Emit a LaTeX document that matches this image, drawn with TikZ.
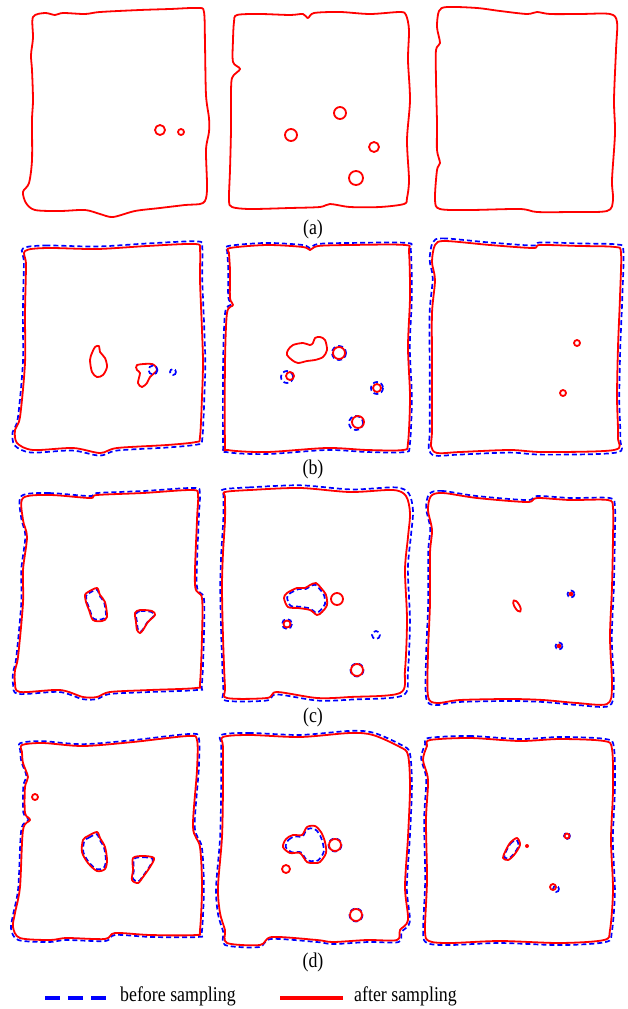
\documentclass[tikz,border=0pt]{standalone}
\usepackage{fontspec}
\setmainfont{Liberation Serif}
\tikzset{
  afterline/.style={draw=red, line width=1.8pt, line join=round},
  beforeline/.style={draw=blue, line width=1.7pt, dash pattern=on 5pt off 3pt},
  dotfill/.style={fill=red, draw=none},
  caption/.style={font=\fontsize{21}{24}\selectfont, inner sep=0pt},
}
% outline: blue one scaled about (#1,#2) by #3, red one on top
\newcommand\slab[4]{%
  \draw[beforeline, shift={(#1,#2)}, scale=#3, shift={(-#1,-#2)}] plot[smooth cycle] coordinates {#4};
  \draw[afterline] plot[smooth cycle] coordinates {#4};
}
\newcommand\narrow[1]{\scalebox{0.85}[1]{#1}}

\begin{document}
\begin{tikzpicture}[x=1pt, y=-1pt]
\useasboundingbox (0,0) rectangle (627,1009);

% Row (a)
\draw[afterline] plot[smooth cycle] coordinates {(33,17) (45,13) (55,15) (63,13) (85,14) (100,12) (140,10) (170,9) (198,8) (204,12) (205,45) (206,95) (209,118) (209,132) (206,150) (207,190) (203,203) (185,205) (160,208) (135,211) (113,217) (100,214) (85,210) (60,211) (35,210) (26,203) (23,192) (29,183) (32,160) (32,120) (33,100) (32,70) (31,55) (33,38)};
\draw[afterline] (160,130) circle (5) (181,132) circle (3);

\draw[afterline] plot[smooth cycle] coordinates {(237,15) (260,14) (290,15) (303,14) (308,18) (314,13) (340,12) (370,14) (400,12) (406,15) (409,30) (408,60) (410,100) (407,140) (409,180) (407,198) (404,204) (380,207) (350,207) (330,204) (320,207) (290,208) (250,209) (232,207) (229,200) (230,170) (231,130) (231,100) (232,78) (240,69) (233,62) (233,40) (234,22)};
\draw[afterline] (340,113) circle (6) (291,135) circle (6) (374,147) circle (5) (356,178) circle (7);

\draw[afterline] plot[smooth cycle] coordinates {(439,11) (447,7) (477,8) (500,11) (527,14) (537,12) (550,14) (580,14) (610,14) (617,22) (616,50) (614,100) (615,133) (612,180) (613,200) (607,211) (570,212) (537,212) (520,209) (470,210) (440,209) (435,200) (437,170) (440,163) (437,150) (437,123) (436,80) (436,50) (440,43) (437,27)};

\node[caption] (la) at (313,229) {\narrow{(a)}};

% Row (b)
\slab{110}{348}{1.025}{(25,251) (47,248) (97,249) (147,246) (195,244) (200,250) (200,280) (202,330) (203,363) (202,397) (200,437) (196,442) (167,445) (117,448) (100,453) (73,448) (33,450) (17,443) (15,430) (20,417) (25,363) (25,313) (26,265)}
\draw[afterline] plot[smooth cycle] coordinates {(95,347) (99,346) (100,352) (105,358) (107,367) (103,375) (97,377) (92,372) (90,360) (92,353)};
\draw[afterline] plot[smooth cycle] coordinates {(137,365) (152,364) (157,370) (150,377) (147,383) (142,387) (138,383) (140,373) (137,370)};
\draw[beforeline] (153,370) circle (4.5) (173,372) circle (3);

\slab{318}{348}{1.02}{(230,248) (267,245) (303,247) (310,250) (318,246) (350,245) (405,245) (409,252) (410,297) (408,347) (410,397) (408,443) (403,450) (367,450) (327,448) (267,452) (228,450) (225,443) (225,363) (227,313) (233,305) (230,298) (230,270) (229,253)}
\draw[afterline] plot[smooth cycle] coordinates {(288,350) (293,345) (303,343) (310,345) (313,343) (315,338) (320,337) (325,340) (327,350) (323,357) (315,360) (307,361) (298,363) (292,360) (287,355)};
\draw[beforeline] (339,353) circle (7) (287,377) circle (6) (377,388) circle (6) (356,423) circle (7);
\draw[afterline] (339,353) circle (6) (290,376) circle (4) (377,388) circle (4) (358,422) circle (6);

\slab{526}{347}{1.025}{(435,245) (445,241) (490,245) (533,248) (540,245) (580,246) (615,247) (621,253) (620,297) (618,347) (617,397) (618,437) (614,450) (543,452) (510,450) (460,452) (437,453) (431,446) (432,430) (432,363) (432,313) (435,280) (432,262)}
\draw[afterline] (577,343) circle (3) (563,393) circle (3);

\node[caption] (lb) at (313,469) {\narrow{(b)}};

% Row (c)
\slab{108}{593}{1.02}{(23,498) (50,495) (90,498) (97,495) (143,493) (192,490) (198,495) (197,520) (195,585) (202,598) (202,637) (200,683) (196,688) (150,690) (110,692) (97,697) (83,697) (60,690) (20,692) (15,683) (15,670) (18,657) (23,603) (23,570) (27,537) (23,520)}
\slab{96}{605}{0.9}{(85,595) (88,592) (97,588) (100,595) (105,602) (107,617) (102,621) (93,620) (89,610) (86,602)}
\slab{145}{620}{0.9}{(135,613) (140,610) (152,611) (155,615) (148,622) (143,630) (140,633) (137,630) (136,622)}

\slab{290}{595}{1.025}{(225,492) (250,490) (300,488) (350,492) (393,490) (406,496) (410,513) (408,537) (405,570) (407,620) (405,670) (400,693) (350,697) (317,698) (277,692) (267,698) (227,698) (225,687) (223,637) (222,587) (223,553) (225,520) (225,497)}
\slab{310}{597}{0.88}{(284,598) (287,593) (297,588) (305,588) (310,585) (316,583) (321,588) (326,595) (327,605) (322,612) (317,615) (310,610) (298,608) (288,607)}
\draw[beforeline] (287,624) circle (5) (376,635) circle (4) (357,670) circle (6.5);
\draw[afterline] (337,599) circle (6) (287,624) circle (3.5) (357,670) circle (6);

\slab{520}{600}{1.02}{(431,496) (443,493) (477,498) (527,502) (537,498) (570,500) (608,500) (613,508) (613,537) (612,587) (610,637) (612,687) (607,704) (577,703) (543,700) (510,699) (460,700) (437,703) (428,696) (428,653) (430,603) (430,553) (432,530) (428,510)}
\draw[afterline, rotate around={-60:(517,606)}] (517,606) ellipse (6.5 and 2.5);
\draw[beforeline] (571,594) circle (3.5) (559,646) circle (3.5);
\fill[dotfill] (571,594) circle (2.3) (559,646) circle (2.3);

\node[caption] (lc) at (313,717) {\narrow{(c)}};

% Row (d)
\slab{108}{838}{1.02}{(22,745) (43,743) (83,746) (133,742) (188,736) (197,740) (197,770) (193,827) (200,847) (202,887) (200,930) (196,935) (150,935) (115,933) (105,939) (67,938) (50,940) (20,938) (13,927) (15,913) (20,887) (23,830) (30,820) (25,813) (25,787) (28,777) (23,763) (22,752)}
\draw[afterline] (35,797) circle (3);
\slab{95}{853}{0.9}{(83,840) (88,836) (97,832) (100,838) (105,847) (107,860) (105,869) (97,871) (88,863) (82,852)}
\slab{142}{868}{0.9}{(133,858) (143,856) (154,858) (150,867) (143,877) (138,883) (132,880) (133,870)}

\slab{315}{840}{1.02}{(223,737) (250,735) (300,737) (350,733) (373,735) (400,747) (408,755) (410,787) (408,837) (405,887) (408,920) (400,930) (397,940) (367,940) (333,942) (317,940) (272,937) (260,945) (227,943) (225,930) (220,913) (218,887) (222,837) (223,787) (223,747)}
\slab{306}{847}{0.88}{(283,847) (286,839) (293,835) (302,835) (307,827) (315,826) (321,832) (325,842) (326,853) (320,862) (315,863) (307,862) (300,853) (290,853)}
\draw[beforeline] (335,845) circle (6.5) (356,915) circle (6.5);
\draw[afterline] (335,845) circle (6) (286,869) circle (4) (356,915) circle (6);

\slab{518}{840}{1.02}{(430,740) (470,738) (520,741) (560,739) (604,741) (612,749) (613,790) (611,840) (613,890) (610,930) (604,940) (560,943) (500,941) (450,943) (429,941) (425,930) (427,880) (426,820) (428,780) (423,760) (427,746)}
\slab{511}{850}{0.85}{(505,852) (510,843) (517,838) (520,845) (514,855) (508,860) (503,858)}
\draw[beforeline] (567,836) circle (3) (556,889) circle (3);
\draw[afterline] (567,836) circle (2.5) (553,887) circle (3);
\fill[dotfill] (527,846) circle (2);

\node[caption] (ld) at (313,962) {\narrow{(d)}};

% Legend
\draw[draw=blue, line width=4pt, dash pattern=on 15pt off 8pt] (45,998) -- (106,998);
\node[caption, anchor=base west] (before) at (120,1001) {\narrow{before sampling}};
\draw[draw=red, line width=4pt] (280,998) -- (343,998);
\node[caption, anchor=base west] (after) at (354,1001) {\narrow{after sampling}};
\end{tikzpicture}
\end{document}
